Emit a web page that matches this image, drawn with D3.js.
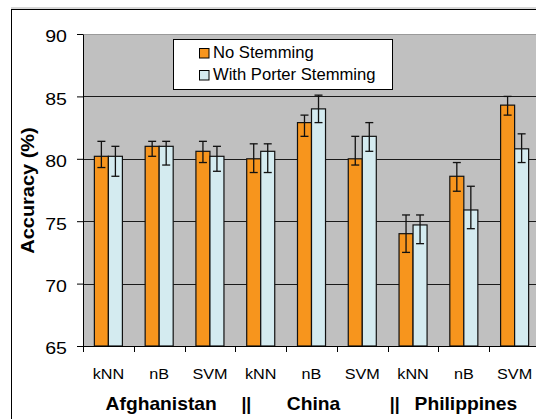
<!DOCTYPE html>
<html>
<head>
<meta charset="utf-8">
<script src="https://cdn.jsdelivr.net/npm/d3@7"></script>
<style>
  html, body { margin: 0; padding: 0; background: #fff; }
  svg { display: block; font-family: Arial, "Liberation Sans", sans-serif; }
</style>
</head>
<body>
<svg id="chart" width="536" height="419"></svg>
<script>
// ---- data ----
const classifiers = ["kNN", "nB", "SVM", "kNN", "nB", "SVM", "kNN", "nB", "SVM"];
const countries = ["Afghanistan", "China", "Philippines"];
const seriesNames = ["No Stemming", "With Porter Stemming"];
const noStem      = [80.2, 81.0, 80.6, 80.0, 82.9, 80.0, 74.0, 78.6, 84.3];
const noStemHi    = [81.4, 81.4, 81.4, 81.2, 83.5, 81.8, 75.5, 79.7, 85.0];
const noStemLo    = [79.3, 80.2, 79.7, 78.9, 81.8, 79.5, 72.5, 77.4, 83.5];
const porter      = [80.2, 81.0, 80.2, 80.6, 84.0, 81.8, 74.7, 75.9, 80.8];
const porterHi    = [81.0, 81.4, 81.0, 81.2, 85.1, 82.9, 75.5, 77.8, 82.0];
const porterLo    = [78.6, 79.5, 79.0, 78.9, 82.9, 80.6, 73.2, 74.4, 79.7];
const yTicks      = [65, 70, 75, 80, 85, 90];
const gridValues  = [70, 75, 80, 85];

const colors = ["#F7951D", "#D4EBF0"];
const plotBg = "#C0C0C0";

const svg = d3.select("#chart");
const m = { left: 83, top: 34, right: 540, bottom: 346 };

const idx = classifiers.map((d, i) => i);
const x = d3.scaleBand().domain(idx).range([m.left, m.right]).padding(0);
const bw = x.bandwidth();
const xs = d3.scaleBand().domain([0, 1]).range([bw * 0.224, bw * 0.776]).padding(0);
const y = d3.scaleLinear().domain([65, 90]).range([m.bottom, m.top]);

function stretchedText(g, txt, px, py, sx, opts) {
  const t = g.append("text")
    .attr("transform", `translate(${px},${py}) scale(${sx},1)`)
    .text(txt);
  for (const k in opts) t.attr(k, opts[k]);
  return t;
}

// outer border
svg.append("line").attr("x1", 11).attr("x2", 536).attr("y1", 8).attr("y2", 8)
  .attr("stroke", "#b0b0b0").attr("stroke-width", 1);
svg.append("rect").attr("x", 11.5).attr("y", 9.5).attr("width", 600).attr("height", 500)
  .attr("fill", "none").attr("stroke", "#000").attr("stroke-width", 1);

// plot background
svg.append("rect").attr("x", m.left).attr("y", m.top)
  .attr("width", m.right - m.left).attr("height", m.bottom - m.top)
  .attr("fill", plotBg);
svg.append("line").attr("x1", m.left).attr("x2", m.right)
  .attr("y1", m.top + 0.5).attr("y2", m.top + 0.5)
  .attr("stroke", "#9a9a9a").attr("stroke-width", 1);

// gridlines
svg.append("g").selectAll("line").data(gridValues).join("line")
  .attr("x1", m.left).attr("x2", m.right)
  .attr("y1", d => Math.round(y(d)) + 0.5).attr("y2", d => Math.round(y(d)) + 0.5)
  .attr("stroke", "#1a1a1a").attr("stroke-width", 1);

// bars
const series = [
  { vals: noStem, hi: noStemHi, lo: noStemLo },
  { vals: porter, hi: porterHi, lo: porterLo }
];
const barG = svg.append("g");
series.forEach((s, si) => {
  barG.append("g").selectAll("rect").data(idx).join("rect")
    .attr("x", i => x(i) + xs(si))
    .attr("y", i => y(s.vals[i]))
    .attr("width", xs.bandwidth())
    .attr("height", i => y(65) - y(s.vals[i]))
    .attr("fill", colors[si])
    .attr("stroke", "#111")
    .attr("stroke-width", 1.2);
});

// error bars
const errG = svg.append("g").attr("stroke", "#111").attr("stroke-width", 1.3);
series.forEach((s, si) => {
  idx.forEach(i => {
    const cx = x(i) + xs(si) + xs.bandwidth() / 2;
    errG.append("line").attr("x1", cx).attr("x2", cx)
      .attr("y1", y(s.hi[i])).attr("y2", y(s.lo[i]));
    errG.append("line").attr("x1", cx - 4).attr("x2", cx + 4)
      .attr("y1", y(s.hi[i])).attr("y2", y(s.hi[i]));
    errG.append("line").attr("x1", cx - 4).attr("x2", cx + 4)
      .attr("y1", y(s.lo[i])).attr("y2", y(s.lo[i]));
  });
});

// y axis
const yAxis = svg.append("g")
  .attr("transform", `translate(${m.left},0)`)
  .call(d3.axisLeft(y).tickValues(yTicks).tickSize(6).tickPadding(8).tickSizeOuter(0));
yAxis.select(".domain").attr("stroke", "#000");
yAxis.selectAll(".tick line").attr("stroke", "#000");
yAxis.selectAll(".tick text")
  .attr("font-size", 17).attr("fill", "#000")
  .attr("dy", "0.46em")
  .attr("font-family", "Arial, 'Liberation Sans', sans-serif")
  .attr("transform", "scale(1.15,1)");

// x axis line and ticks
svg.append("line").attr("x1", m.left).attr("x2", m.right)
  .attr("y1", m.bottom + 0.5).attr("y2", m.bottom + 0.5)
  .attr("stroke", "#000");
svg.append("g").selectAll("line").data(idx.concat([idx.length])).join("line")
  .attr("x1", i => Math.round(m.left + i * bw) + 0.5)
  .attr("x2", i => Math.round(m.left + i * bw) + 0.5)
  .attr("y1", m.bottom).attr("y2", m.bottom + 6)
  .attr("stroke", "#000");

// x tick labels
const xl = svg.append("g");
idx.forEach(i => {
  stretchedText(xl, classifiers[i], x(i) + bw / 2, 379, 1.08,
    { "text-anchor": "middle", "font-size": 15, "fill": "#000" });
});

// group labels
const gl = svg.append("g");
countries.forEach((c, k) => {
  const cx = x(k * 3 + 1) + bw / 2 + 2;
  stretchedText(gl, c, cx, 410, 1.1,
    { "text-anchor": "middle", "font-size": 17.5, "font-weight": "bold", "fill": "#000" });
});
const sepOffsets = [11, 7];
[1, 2].forEach((k, j) => {
  stretchedText(gl, "||", x(k * 3) + sepOffsets[j], 410, 1.0,
    { "text-anchor": "middle", "font-size": 17.5, "font-weight": "bold", "fill": "#000" });
});

// y title
svg.append("text")
  .attr("transform", "translate(33.5,190.5) rotate(-90) scale(1.05,1)")
  .attr("text-anchor", "middle")
  .attr("font-size", 19).attr("font-weight", "bold").attr("fill", "#000")
  .text("Accuracy (%)");

// legend
const lg = svg.append("g");
lg.append("rect").attr("x", 173.5).attr("y", 39.5).attr("width", 219).attr("height", 50)
  .attr("fill", "#fff").attr("stroke", "#000");
seriesNames.forEach((n, i) => {
  const yy = 48 + i * 22;
  lg.append("rect").attr("x", 199.5).attr("y", yy + 0.5).attr("width", 9.5).attr("height", 9.5)
    .attr("fill", colors[i]).attr("stroke", "#000");
  stretchedText(lg, n, 213, yy + 9.8, 1.02, { "font-size": 16.3, "fill": "#000" });
});
</script>
</body>
</html>
